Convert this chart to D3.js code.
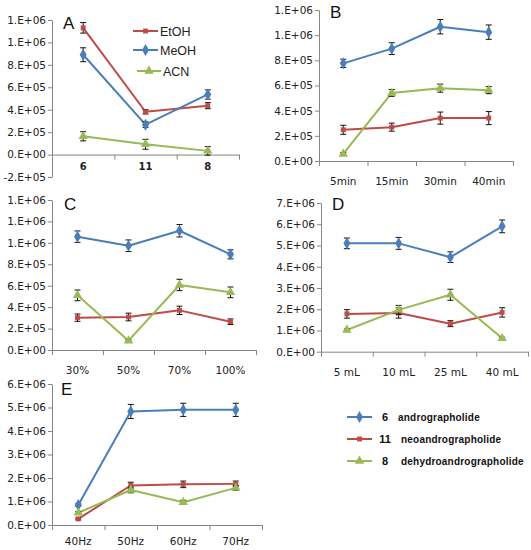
<!DOCTYPE html>
<html>
<head>
<meta charset="utf-8">
<script src="https://cdn.jsdelivr.net/npm/d3@7"></script>
<style>
  body { margin: 0; background: #fff; }
  svg { display: block; }
  .tick text { font-family: "DejaVu Sans", Verdana, sans-serif; fill: #222; }
</style>
</head>
<body>
<svg id="chart" width="531" height="550"></svg>
<script>
// ---- data ----
const seriesNames = ["andrographolide", "neoandrographolide", "dehydroandrographolide"];
const seriesIds = ["6", "11", "8"];
const solventNames = ["EtOH", "MeOH", "ACN"];

const catsA = ["6", "11", "8"];
const aEtOH = [1130000, 382000, 436000];
const aEtOHErr = [47000, 20000, 27000];
const aMeOH = [890000, 267000, 536000];
const aMeOHErr = [62000, 25000, 41000];
const aACN = [163000, 92000, 33000];
const aACNErr = [41000, 44000, 38000];
const aTicks = [-200000, 0, 200000, 400000, 600000, 800000, 1000000, 1200000];
const aTickLabels = ["-2.E+05", "0.E+00", "2.E+05", "4.E+05", "6.E+05", "8.E+05", "1.E+06", "1.E+06"];

const catsB = ["5min", "15min", "30min", "40min"];
const bAndro = [776000, 893000, 1067000, 1024000];
const bAndroErr = [33000, 47000, 57000, 57000];
const bNeo = [248000, 269000, 341000, 341000];
const bNeoErr = [36000, 32000, 48000, 52000];
const bDehydro = [56000, 541000, 579000, 563000];
const bDehydroErr = [12000, 27000, 32000, 28000];
const bTicks = [0, 200000, 400000, 600000, 800000, 1000000, 1200000];
const bTickLabels = ["0.E+00", "2.E+05", "4.E+05", "6.E+05", "8.E+05", "1.E+06", "1.E+06"];

const catsC = ["30%", "50%", "70%", "100%"];
const cAndro = [1058000, 973000, 1113000, 893000];
const cAndroErr = [53000, 54000, 58000, 42000];
const cNeo = [302000, 308000, 370000, 264000];
const cNeoErr = [34000, 36000, 39000, 26000];
const cDehydro = [510000, 87000, 607000, 538000];
const cDehydroErr = [50000, 10000, 53000, 50000];
const cTicks = [0, 200000, 400000, 600000, 800000, 1000000, 1200000, 1400000];
const cTickLabels = ["0.E+00", "2.E+05", "4.E+05", "6.E+05", "8.E+05", "1.E+06", "1.E+06", "1.E+06"];

const catsD = ["5 mL", "10 mL", "25 mL", "40 mL"];
const dAndro = [5100000, 5100000, 4450000, 5900000];
const dAndroErr = [250000, 280000, 250000, 300000];
const dNeo = [1780000, 1820000, 1320000, 1850000];
const dNeoErr = [200000, 240000, 140000, 220000];
const dDehydro = [1020000, 1970000, 2680000, 630000];
const dDehydroErr = [50000, 210000, 260000, 50000];
const dTicks = [0, 1000000, 2000000, 3000000, 4000000, 5000000, 6000000, 7000000];
const dTickLabels = ["0.E+00", "1.E+06", "2.E+06", "3.E+06", "4.E+06", "5.E+06", "6.E+06", "7.E+06"];

const catsE = ["40Hz", "50Hz", "60Hz", "70Hz"];
const eAndro = [850000, 4830000, 4900000, 4900000];
const eAndroErr = [50000, 300000, 280000, 280000];
const eNeo = [260000, 1680000, 1730000, 1750000];
const eNeoErr = [40000, 140000, 140000, 120000];
const eDehydro = [520000, 1490000, 970000, 1580000];
const eDehydroErr = [50000, 120000, 80000, 100000];
const eTicks = [0, 1000000, 2000000, 3000000, 4000000, 5000000, 6000000];
const eTickLabels = ["0.E+00", "1.E+06", "2.E+06", "3.E+06", "4.E+06", "5.E+06", "6.E+06"];

// ---- styles ----
const blue = "#4a7ebb", red = "#be4b48", green = "#98b954";
const axisColor = "#868686";
const tickFont = "\"DejaVu Sans\", Verdana, sans-serif";

const svg = d3.select("#chart");

function marker(g, shape, color, x, y) {
  let sym;
  if (shape === "diamond") sym = d3.symbol().type(d3.symbolDiamond).size(42);
  else if (shape === "square") sym = d3.symbol().type(d3.symbolSquare).size(24);
  else sym = d3.symbol().type(d3.symbolTriangle).size(38);
  g.append("path")
    .attr("d", sym())
    .attr("transform", `translate(${x},${y})`)
    .attr("fill", color);
}

function drawPanel(p) {
  let g = svg.append("g");
  let y = d3.scaleLinear().domain(p.yDomain).range([p.yBottom, p.yTop]);
  let xBand = d3.scaleBand().domain(p.cats).range([p.x0, p.x1]);
  let xLin = d3.scaleLinear().domain([0, p.cats.length]).range([p.x0, p.x1]);

  // y axis
  let yAx = g.append("g")
    .attr("transform", `translate(${p.x0},0)`)
    .call(d3.axisLeft(y).tickValues(p.ticks)
      .tickFormat((d, i) => p.tickLabels[i]).tickSize(4).tickPadding(2).tickSizeOuter(0));
  yAx.select(".domain").attr("stroke", axisColor);
  yAx.selectAll("line").attr("stroke", axisColor);
  yAx.selectAll("text").style("font-size", "10.5px").style("font-family", tickFont);

  // x axis at zero, tick marks between categories
  let xAx = g.append("g")
    .attr("transform", `translate(0,${y(0)})`)
    .call(d3.axisBottom(xLin).tickValues(d3.range(p.cats.length + 1))
      .tickFormat("").tickSize(5).tickSizeOuter(0));
  xAx.select(".domain").attr("stroke", axisColor);
  xAx.selectAll("line").attr("stroke", axisColor);

  // category labels
  g.selectAll(".xlab")
    .data(p.cats)
    .enter()
    .append("text")
    .attr("x", (d) => xBand(d) + xBand.bandwidth() / 2)
    .attr("y", p.labelY)
    .attr("text-anchor", "middle")
    .style("font-family", tickFont)
    .style("font-size", p.boldCats ? "10px" : "10.5px")
    .style("font-weight", p.boldCats ? "bold" : "normal")
    .attr("fill", "#222")
    .text((d) => d);

  // panel letter
  g.append("text")
    .attr("x", p.letterX)
    .attr("y", p.letterY)
    .style("font-family", "\"Liberation Sans\", Arial, sans-serif")
    .style("font-size", "17px")
    .attr("fill", "#111")
    .text(p.letter);

  let cx = (i) => xBand(p.cats[i]) + xBand.bandwidth() / 2;

  p.series.forEach((s) => {
    g.append("path")
      .datum(s.values)
      .attr("fill", "none")
      .attr("stroke", s.color)
      .attr("stroke-width", 2)
      .attr("stroke-linejoin", "round")
      .attr("d", d3.line().x((d, i) => cx(i)).y((d) => y(d)));
  });
  p.series.forEach((s) => {
    s.values.forEach((v, i) => {
      let e = s.err[i];
      let x = cx(i);
      g.append("line").attr("x1", x).attr("x2", x).attr("y1", y(v - e)).attr("y2", y(v + e))
        .attr("stroke", "#111").attr("stroke-width", 1);
      [v - e, v + e].forEach((w) => {
        g.append("line").attr("x1", x - 3).attr("x2", x + 3).attr("y1", y(w)).attr("y2", y(w))
          .attr("stroke", "#111").attr("stroke-width", 1);
      });
      marker(g, s.shape, s.color, x, y(v));
    });
  });
}

drawPanel({
  letter: "A", letterX: 63, letterY: 29,
  cats: catsA, x0: 52, x1: 239, yDomain: [-200000, 1200000], yBottom: 177, yTop: 20,
  ticks: aTicks, tickLabels: aTickLabels, labelY: 170, boldCats: true,
  series: [
    { values: aEtOH, err: aEtOHErr, color: red, shape: "square" },
    { values: aMeOH, err: aMeOHErr, color: blue, shape: "diamond" },
    { values: aACN, err: aACNErr, color: green, shape: "triangle" }
  ]
});
drawPanel({
  letter: "B", letterX: 330, letterY: 18,
  cats: catsB, x0: 319, x1: 513, yDomain: [0, 1200000], yBottom: 161, yTop: 10,
  ticks: bTicks, tickLabels: bTickLabels, labelY: 185,
  series: [
    { values: bAndro, err: bAndroErr, color: blue, shape: "diamond" },
    { values: bNeo, err: bNeoErr, color: red, shape: "square" },
    { values: bDehydro, err: bDehydroErr, color: green, shape: "triangle" }
  ]
});
drawPanel({
  letter: "C", letterX: 64, letterY: 210,
  cats: catsC, x0: 52, x1: 256, yDomain: [0, 1400000], yBottom: 350, yTop: 200,
  ticks: cTicks, tickLabels: cTickLabels, labelY: 374,
  series: [
    { values: cAndro, err: cAndroErr, color: blue, shape: "diamond" },
    { values: cNeo, err: cNeoErr, color: red, shape: "square" },
    { values: cDehydro, err: cDehydroErr, color: green, shape: "triangle" }
  ]
});
drawPanel({
  letter: "D", letterX: 332, letterY: 210,
  cats: catsD, x0: 321, x1: 528, yDomain: [0, 7000000], yBottom: 351.7, yTop: 203,
  ticks: dTicks, tickLabels: dTickLabels, labelY: 376,
  series: [
    { values: dAndro, err: dAndroErr, color: blue, shape: "diamond" },
    { values: dNeo, err: dNeoErr, color: red, shape: "square" },
    { values: dDehydro, err: dDehydroErr, color: green, shape: "triangle" }
  ]
});
drawPanel({
  letter: "E", letterX: 61, letterY: 395,
  cats: catsE, x0: 52, x1: 262, yDomain: [0, 6000000], yBottom: 525, yTop: 384,
  ticks: eTicks, tickLabels: eTickLabels, labelY: 545,
  series: [
    { values: eAndro, err: eAndroErr, color: blue, shape: "diamond" },
    { values: eNeo, err: eNeoErr, color: red, shape: "square" },
    { values: eDehydro, err: eDehydroErr, color: green, shape: "triangle" }
  ]
});

// ---- legend inside panel A (solvents) ----
const legA = svg.append("g");
const legAColors = [red, blue, green];
const legAShapes = ["square", "diamond", "triangle"];
const legAY = [31, 50, 71];
const legAX = [[133, 158], [133, 158], [137, 161]];
solventNames.forEach((n, i) => {
  legA.append("line")
    .attr("x1", legAX[i][0]).attr("x2", legAX[i][1])
    .attr("y1", legAY[i]).attr("y2", legAY[i])
    .attr("stroke", legAColors[i]).attr("stroke-width", 2);
  marker(legA, legAShapes[i], legAColors[i], (legAX[i][0] + legAX[i][1]) / 2, legAY[i]);
  legA.append("text")
    .attr("x", legAX[i][1] + 2)
    .attr("y", legAY[i] + 4.5)
    .style("font-family", "\"Liberation Sans\", Arial, sans-serif")
    .style("font-size", "12.5px")
    .attr("fill", "#222")
    .text(n);
});

// ---- compound legend, bottom right ----
const leg = svg.append("g");
const legColors = [blue, red, green];
const legShapes = ["diamond", "square", "triangle"];
const legY = [417, 439, 461];
seriesNames.forEach((n, i) => {
  leg.append("line")
    .attr("x1", 347).attr("x2", 372)
    .attr("y1", legY[i]).attr("y2", legY[i])
    .attr("stroke", legColors[i]).attr("stroke-width", 2);
  marker(leg, legShapes[i], legColors[i], 359.5, legY[i]);
  leg.append("text")
    .attr("x", 385)
    .attr("y", legY[i] + 4)
    .attr("text-anchor", "middle")
    .style("font-family", "\"Liberation Sans\", Arial, sans-serif")
    .style("font-size", "11px")
    .style("font-weight", "bold")
    .attr("fill", "#111")
    .text(seriesIds[i]);
  leg.append("text")
    .attr("x", i === 0 ? 398 : 401)
    .attr("y", legY[i] + 4)
    .style("font-family", "\"Liberation Sans\", Arial, sans-serif")
    .style("font-size", "10px")
    .style("font-weight", "bold")
    .style("letter-spacing", "0.2px")
    .attr("fill", "#111")
    .text(n);
});
</script>
</body>
</html>
